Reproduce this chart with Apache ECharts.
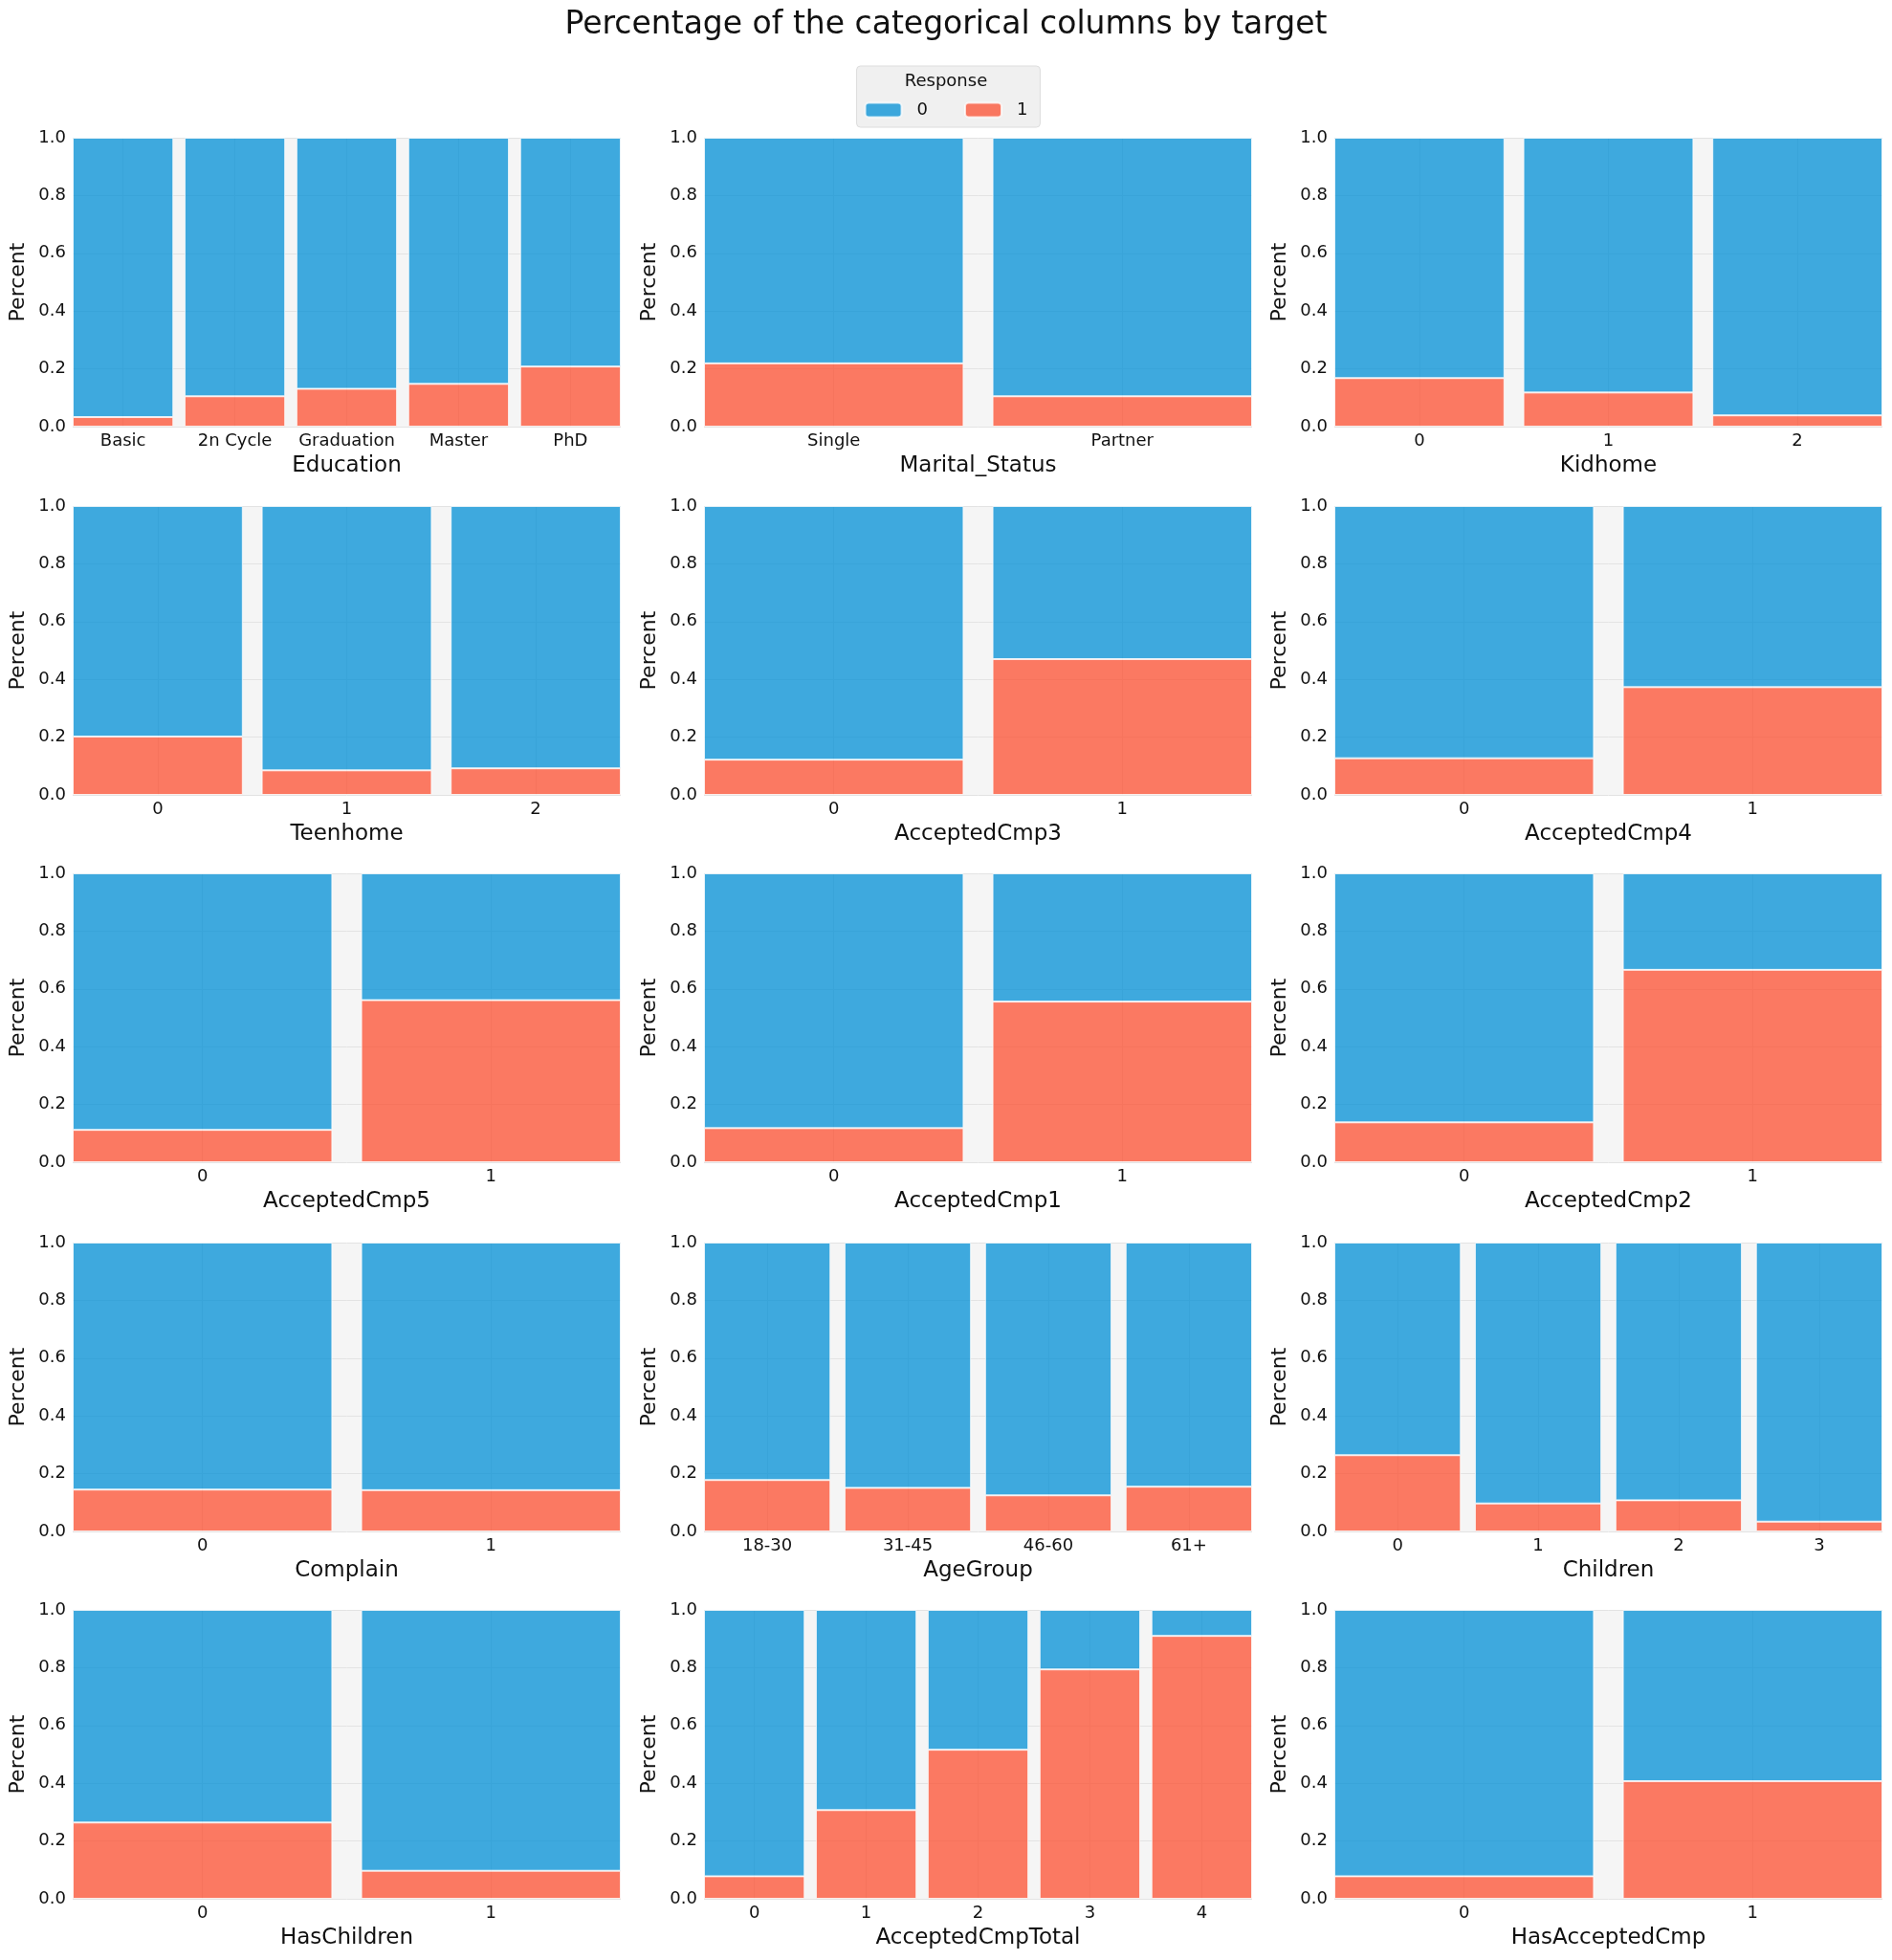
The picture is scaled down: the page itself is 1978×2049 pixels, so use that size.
<!DOCTYPE html>
<html>
<head>
<meta charset="utf-8">
<script src="https://cdn.jsdelivr.net/npm/echarts@6/dist/echarts.min.js"></script>
<style>
html,body{margin:0;padding:0;background:#fff;}
#chart{width:1978px;height:2049px;}
</style>
</head>
<body>
<div id="chart"></div>
<script>
// ---- data: share of Response = 1 in each category (Response = 0 is the remainder of the 100% fill)
const educationCats = ['Basic', '2n Cycle', 'Graduation', 'Master', 'PhD'];
const educationResp1 = [0.033, 0.105, 0.131, 0.148, 0.208];
const maritalCats = ['Single', 'Partner'];
const maritalResp1 = [0.219, 0.105];
const kidhomeCats = ['0', '1', '2'];
const kidhomeResp1 = [0.168, 0.118, 0.039];
const teenhomeCats = ['0', '1', '2'];
const teenhomeResp1 = [0.202, 0.085, 0.092];
const cmp3Cats = ['0', '1'];
const cmp3Resp1 = [0.122, 0.470];
const cmp4Cats = ['0', '1'];
const cmp4Resp1 = [0.127, 0.373];
const cmp5Cats = ['0', '1'];
const cmp5Resp1 = [0.112, 0.561];
const cmp1Cats = ['0', '1'];
const cmp1Resp1 = [0.118, 0.556];
const cmp2Cats = ['0', '1'];
const cmp2Resp1 = [0.138, 0.666];
const complainCats = ['0', '1'];
const complainResp1 = [0.145, 0.143];
const ageCats = ['18-30', '31-45', '46-60', '61+'];
const ageResp1 = [0.178, 0.151, 0.125, 0.155];
const childrenCats = ['0', '1', '2', '3'];
const childrenResp1 = [0.264, 0.097, 0.108, 0.034];
const hasChildrenCats = ['0', '1'];
const hasChildrenResp1 = [0.264, 0.097];
const cmpTotalCats = ['0', '1', '2', '3', '4'];
const cmpTotalResp1 = [0.078, 0.307, 0.516, 0.794, 0.910];
const hasCmpCats = ['0', '1'];
const hasCmpResp1 = [0.078, 0.407];
const yTicks = [0, 0.2, 0.4, 0.6, 0.8, 1.0];

const panels = [
  ['Education', educationCats, educationResp1],
  ['Marital_Status', maritalCats, maritalResp1],
  ['Kidhome', kidhomeCats, kidhomeResp1],
  ['Teenhome', teenhomeCats, teenhomeResp1],
  ['AcceptedCmp3', cmp3Cats, cmp3Resp1],
  ['AcceptedCmp4', cmp4Cats, cmp4Resp1],
  ['AcceptedCmp5', cmp5Cats, cmp5Resp1],
  ['AcceptedCmp1', cmp1Cats, cmp1Resp1],
  ['AcceptedCmp2', cmp2Cats, cmp2Resp1],
  ['Complain', complainCats, complainResp1],
  ['AgeGroup', ageCats, ageResp1],
  ['Children', childrenCats, childrenResp1],
  ['HasChildren', hasChildrenCats, hasChildrenResp1],
  ['AcceptedCmpTotal', cmpTotalCats, cmpTotalResp1],
  ['HasAcceptedCmp', hasCmpCats, hasCmpResp1]
];

// ---- layout
const colLefts = [76, 736, 1395];
const rowTops = [144, 529, 913, 1299, 1683];
const plotW = 573, plotH = 302;
const FONT = 'DejaVu Sans';
const BLUE = '#008fd5', RED = '#fc4f30';

const grids = [], xAxes = [], yAxes = [], series = [];
panels.forEach((p, i) => {
  const [name, cats, resp1] = p;
  const n = cats.length;
  const row = Math.floor(i / 3), col = i % 3;
  grids.push({
    left: colLefts[col], top: rowTops[row], width: plotW, height: plotH,
    show: true, backgroundColor: '#f5f5f5', borderWidth: 0, containLabel: false
  });
  const idx = cats.map((c, k) => k);
  xAxes.push({
    type: 'value', gridIndex: i, min: -0.45, max: n - 0.55,
    name: name, nameLocation: 'middle', nameGap: 30,
    nameTextStyle: { fontFamily: FONT, fontSize: 23, color: '#111' },
    axisLine: { show: false },
    axisTick: { show: false, customValues: idx },
    axisLabel: {
      customValues: idx, formatter: v => cats[Math.round(v)],
      fontFamily: FONT, fontSize: 18, color: '#111', margin: 6
    },
    splitLine: { show: true, lineStyle: { color: '#e3e3e3', width: 1 } }
  });
  yAxes.push({
    type: 'value', gridIndex: i, min: 0, max: 1, interval: 0.2,
    name: 'Percent', nameLocation: 'middle', nameGap: 46,
    nameTextStyle: { fontFamily: FONT, fontSize: 22, color: '#111' },
    axisLine: { show: false }, axisTick: { show: false },
    axisLabel: { formatter: v => v.toFixed(1), fontFamily: FONT, fontSize: 18, color: '#111', margin: 7 },
    splitLine: { show: true, lineStyle: { color: '#e3e3e3', width: 1 } }
  });
  // data rows are [share, categoryIndex]; the share column is the stacked y value
  series.push({
    name: '1', type: 'bar', xAxisIndex: i, yAxisIndex: i, stack: 's' + i,
    barWidth: '90%', encode: { x: 1, y: 0 },
    itemStyle: { color: RED, opacity: 0.75, borderColor: '#ffffff', borderWidth: 1 },
    data: resp1.map((v, k) => [v, k])
  });
  series.push({
    name: '0', type: 'bar', xAxisIndex: i, yAxisIndex: i, stack: 's' + i,
    barWidth: '90%', encode: { x: 1, y: 0 },
    itemStyle: { color: BLUE, opacity: 0.75, borderColor: '#ffffff', borderWidth: 1 },
    data: resp1.map((v, k) => [1 - v, k])
  });
});

const chart = echarts.init(document.getElementById('chart'), null, { renderer: 'canvas' });
chart.setOption({
  animation: false,
  backgroundColor: '#ffffff',
  title: {
    text: 'Percentage of the categorical columns by target',
    left: 'center', top: 5,
    textStyle: { fontFamily: FONT, fontSize: 33, fontWeight: 'normal', color: '#111' }
  },
  legend: {
    data: ['0', '1'], left: 'center', top: 69,
    padding: [37, 13, 9, 8], itemWidth: 38, itemHeight: 15, itemGap: 38,
    backgroundColor: '#f0f0f0', borderColor: '#dddddd', borderWidth: 1, borderRadius: 4,
    textStyle: { fontFamily: FONT, fontSize: 18, color: '#111', padding: [0, 0, 0, 11] },
    itemStyle: { opacity: 0.75 }
  },
  graphic: [{
    type: 'text', left: 'center', top: 76, z: 100,
    style: { text: 'Response', fontFamily: FONT, fontSize: 18, fill: '#111' }
  }],
  grid: grids, xAxis: xAxes, yAxis: yAxes, series: series
});
</script>
</body>
</html>
